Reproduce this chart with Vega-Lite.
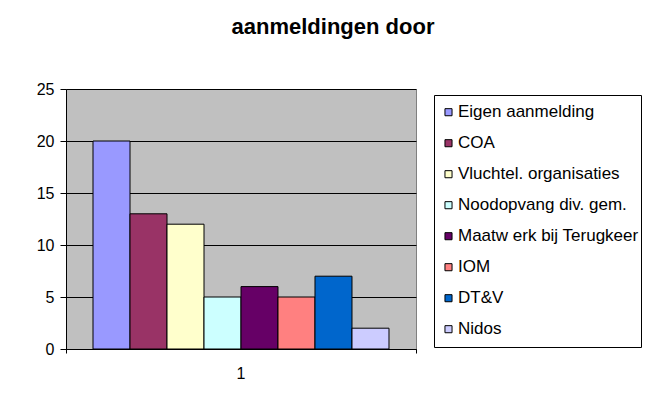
{
  "$schema": "https://vega.github.io/schema/vega-lite/v6.json",
  "width": 350,
  "height": 260,
  "autosize": {"type": "none"},
  "padding": {"left": 66, "top": 89, "right": 241, "bottom": 59},
  "background": "white",
  "title": {
    "text": "aanmeldingen door",
    "font": "Liberation Sans",
    "fontSize": 22,
    "fontWeight": "bold",
    "color": "black",
    "anchor": "middle",
    "dx": 92,
    "offset": 42
  },
  "data": {
    "values": [
      {"groep": "1", "bron": "Eigen aanmelding", "aantal": 20},
      {"groep": "1", "bron": "COA", "aantal": 13},
      {"groep": "1", "bron": "Vluchtel. organisaties", "aantal": 12},
      {"groep": "1", "bron": "Noodopvang div. gem.", "aantal": 5},
      {"groep": "1", "bron": "Maatw erk bij Terugkeer", "aantal": 6},
      {"groep": "1", "bron": "IOM", "aantal": 5},
      {"groep": "1", "bron": "DT&V", "aantal": 7},
      {"groep": "1", "bron": "Nidos", "aantal": 2}
    ]
  },
  "mark": {"type": "bar", "stroke": "black", "strokeWidth": 1},
  "encoding": {
    "x": {
      "field": "groep",
      "type": "nominal",
      "scale": {"paddingInner": 0, "paddingOuter": 0},
      "axis": {
        "title": null,
        "labelAngle": 0,
        "bandPosition": 1,
        "tickExtra": true,
        "domainColor": "black",
        "tickColor": "black",
        "tickSize": 4,
        "labelPadding": 12,
        "labelFont": "Liberation Sans",
        "labelFontSize": 16,
        "labelColor": "black",
        "grid": false
      }
    },
    "xOffset": {
      "field": "bron",
      "type": "nominal",
      "scale": {
        "domain": ["Eigen aanmelding", "COA", "Vluchtel. organisaties", "Noodopvang div. gem.", "Maatw erk bij Terugkeer", "IOM", "DT&V", "Nidos"],
        "paddingInner": 0,
        "paddingOuter": 0.73
      }
    },
    "y": {
      "field": "aantal",
      "type": "quantitative",
      "scale": {"domain": [0, 25], "nice": false},
      "axis": {
        "title": null,
        "values": [0, 5, 10, 15, 20, 25],
        "grid": true,
        "gridColor": "black",
        "gridOpacity": 1,
        "domainColor": "black",
        "tickColor": "black",
        "tickSize": 6,
        "labelPadding": 6,
        "labelFont": "Liberation Sans",
        "labelFontSize": 16,
        "labelColor": "black"
      }
    },
    "color": {
      "field": "bron",
      "type": "nominal",
      "scale": {
        "domain": ["Eigen aanmelding", "COA", "Vluchtel. organisaties", "Noodopvang div. gem.", "Maatw erk bij Terugkeer", "IOM", "DT&V", "Nidos"],
        "range": ["#9999FF", "#993366", "#FFFFCC", "#CCFFFF", "#660066", "#FF8080", "#0066CC", "#CCCCFF"]
      },
      "legend": {
        "title": null,
        "orient": "none",
        "legendX": 368,
        "legendY": 6,
        "strokeColor": "black",
        "fillColor": "white",
        "padding": 2,
        "clipHeight": 30.4,
        "rowPadding": 0,
        "labelFont": "Liberation Sans",
        "labelFontSize": 17,
        "labelColor": "black",
        "labelLimit": 400,
        "labelOffset": 1,
        "symbolOffset": 4,
        "symbolType": "square",
        "symbolSize": 50,
        "symbolStrokeColor": "black",
        "symbolStrokeWidth": 1,
        "symbolOpacity": 1
      }
    }
  },
  "config": {
    "view": {"fill": "#C0C0C0", "stroke": "#808080", "strokeWidth": 1}
  }
}
